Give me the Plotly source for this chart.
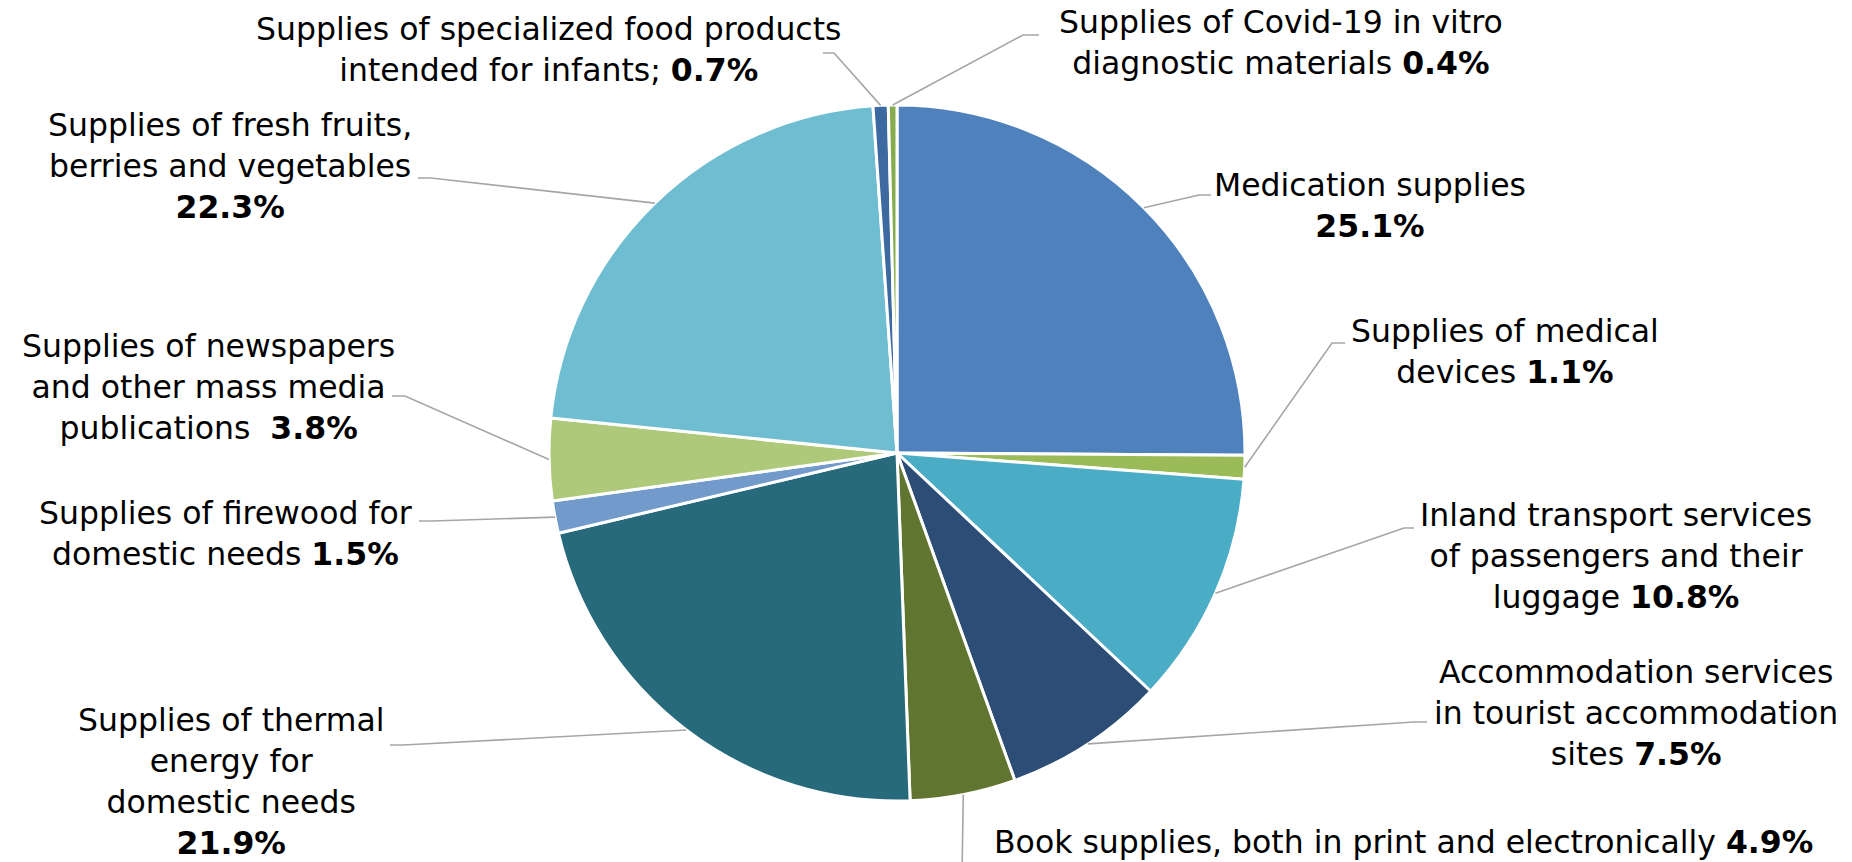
import math
import plotly.graph_objects as go

# ---- data -------------------------------------------------------------
categories = [
    "Medication supplies",
    "Supplies of medical devices",
    "Inland transport services of passengers and their luggage",
    "Accommodation services in tourist accommodation sites",
    "Book supplies, both in print and electronically",
    "Supplies of thermal energy for domestic needs",
    "Supplies of firewood for domestic needs",
    "Supplies of newspapers and other mass media publications",
    "Supplies of fresh fruits, berries and vegetables",
    "Supplies of specialized food products intended for infants",
    "Supplies of Covid-19 in vitro diagnostic materials",
]
shares = [25.1, 1.1, 10.8, 7.5, 4.9, 21.9, 1.5, 3.8, 22.3, 0.7, 0.4]

# label wording, line-broken, and the separator placed before the share
label_lines = [
    ("Medication supplies", "<br>"),
    ("Supplies of medical<br>devices", " "),
    ("Inland transport services<br>of passengers and their<br>luggage", " "),
    ("Accommodation services<br>in tourist accommodation<br>sites", " "),
    ("Book supplies, both in print and electronically", " "),
    ("Supplies of thermal<br>energy for<br>domestic needs", "<br>"),
    ("Supplies of firewood for<br>domestic needs", " "),
    ("Supplies of newspapers<br>and other mass media<br>publications", "&nbsp; "),
    ("Supplies of fresh fruits,<br>berries and vegetables", "<br>"),
    ("Supplies of specialized food products<br>intended for infants;", " "),
    ("Supplies of Covid-19 in vitro<br>diagnostic materials", " "),
]

colors = [
    "#4F81BD", "#9BBB59", "#4BACC6", "#2C4D75", "#5F7530", "#276A7C",
    "#729ACA", "#AFC97A", "#6FBDD1", "#3C6AA0", "#86AC4E",
]

# ---- layout geometry (pixels) ------------------------------------------
W, H = 1852, 862
CX, CY, R = 897, 453, 348

# label block centres
label_pos = [
    (1370, 205), (1505, 351), (1616, 556), (1636, 713), (1403, 842),
    (231, 781), (225, 533), (208, 387), (230, 166), (548, 50), (1281, 43),
]
# leader elbows: (elbow point, end of the short horizontal tail)
leader_pts = [
    ((1199, 195), (1211, 195)),
    ((1332, 343), (1345, 343)),
    ((1404, 528), (1414, 528)),
    ((1414, 722), (1427, 722)),
    ((962, 875), (962, 875)),
    ((403, 745), (390, 745)),
    ((432, 521), (419, 521)),
    ((405, 396), (392, 396)),
    ((431, 178), (418, 178)),
    ((834, 53), (823, 53)),
    ((1023, 35), (1039, 35)),
]


def px(x):
    return x / W


def py(y):
    return 1 - y / H


fig = go.Figure(
    go.Pie(
        values=shares,
        labels=categories,
        sort=False,
        direction="clockwise",
        rotation=0,
        textinfo="none",
        hoverinfo="label+percent",
        showlegend=False,
        marker=dict(colors=colors, line=dict(color="white", width=3)),
        domain=dict(x=[px(CX - R), px(CX + R)], y=[py(CY + R), py(CY - R)]),
    )
)

total = sum(shares)
annotations = []
shapes = []
cum = 0.0
for v, (name, sep), (lx, ly), (elbow, tail) in zip(shares, label_lines, label_pos, leader_pts):
    theta = 2 * math.pi * (cum + v / 2) / total
    cum += v
    ex = CX + R * math.sin(theta)
    ey = CY - R * math.cos(theta)
    path = (
        f"M {px(ex)},{py(ey)} L {px(elbow[0])},{py(elbow[1])} "
        f"L {px(tail[0])},{py(tail[1])}"
    )
    shapes.append(
        dict(type="path", xref="paper", yref="paper", path=path,
             line=dict(color="#A6A6A6", width=1.6))
    )
    annotations.append(
        dict(
            x=px(lx), y=py(ly), xref="paper", yref="paper",
            text=f"{name}{sep}<b>{v}%</b>",
            showarrow=False, xanchor="center", yanchor="middle", align="center",
            font=dict(family="DejaVu Sans, Verdana, sans-serif", size=31.5, color="#000000"),
        )
    )

fig.update_layout(
    width=W, height=H,
    margin=dict(l=0, r=0, t=0, b=0),
    paper_bgcolor="white", plot_bgcolor="white",
    annotations=annotations,
    shapes=shapes,
)

fig.write_html("out.html")
